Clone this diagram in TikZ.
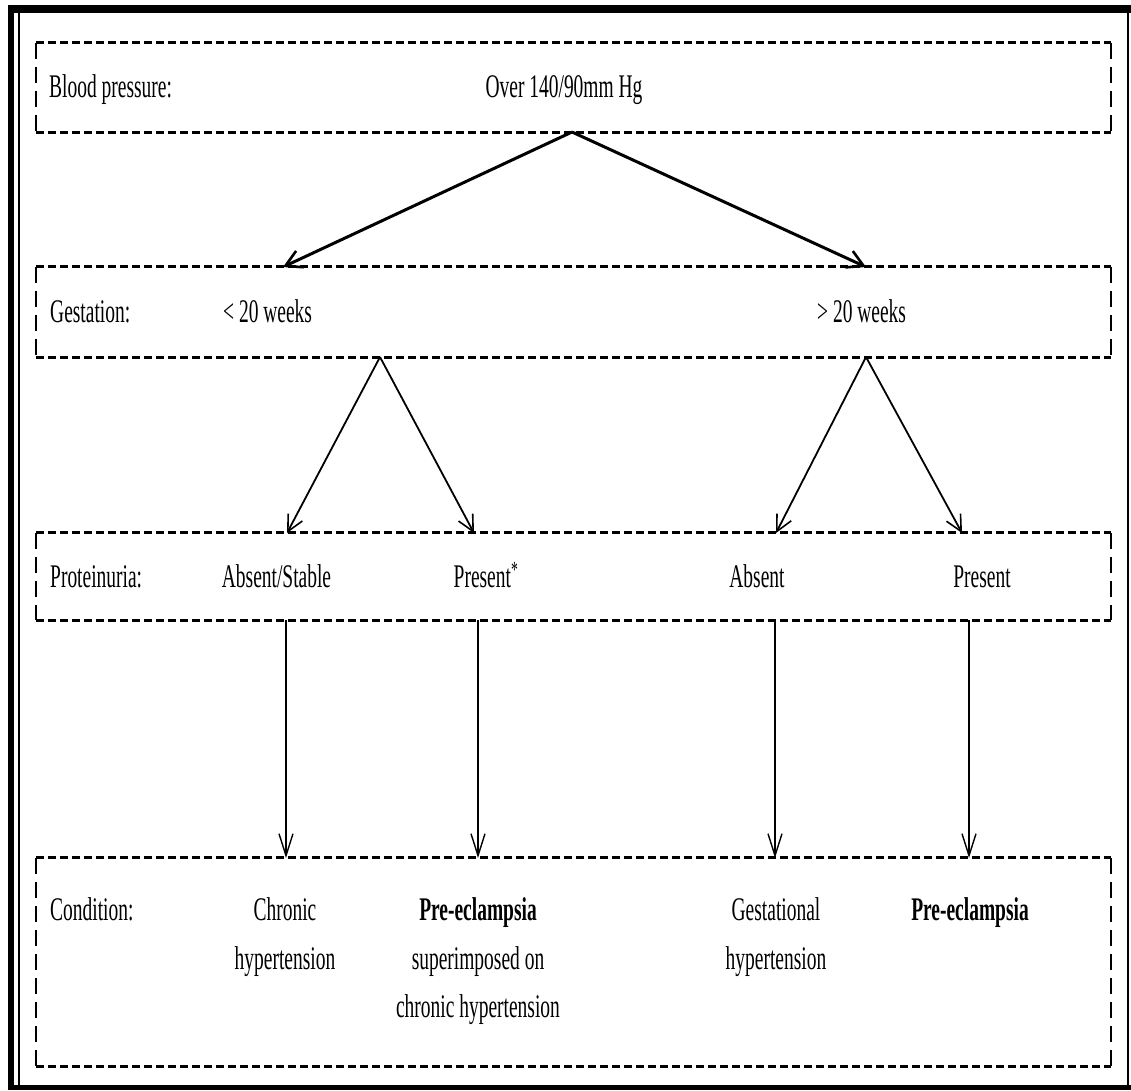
\documentclass[tikz,border=0pt]{standalone}
\usepackage{fontspec}
\setmainfont{Liberation Serif}[FakeStretch=0.59]
\usetikzlibrary{arrows.meta}
\tikzset{
  hdash/.style={line width=3pt, dash pattern=on 8pt off 4pt},
  vdash/.style={line width=2.5pt, dash pattern=on 16pt off 8pt},
  boxarea/.style={draw=none, inner sep=0pt},
  lbl/.style={inner sep=0pt, font=\fontsize{33}{48.5}\selectfont},
  lblc/.style={lbl, align=center, anchor=north},
  bigarrow/.style={line width=3pt, -{Straight Barb[length=16pt,width=18pt,line width=2.6pt]}},
  midarrow/.style={line width=1.8pt, -{Straight Barb[length=16pt,width=16pt,line width=1.6pt]}},
  vertarrow/.style={line width=1.5pt, -{Straight Barb[length=22pt,width=14pt,line width=1.4pt]}},
}
\begin{document}
\begin{tikzpicture}[x=1pt,y=-1pt]
\useasboundingbox (0,0) rectangle (1131,1090);
\fill[white] (0,0) rectangle (1131,1090);
% frame
\draw[line width=6pt] (11,5) -- (11,1090);
\draw[line width=8pt] (8,9) -- (1131,9);
\draw[line width=2pt] (1128,9) -- (1128,1087);
\draw[line width=5pt] (8,1087.5) -- (1131,1087.5);
\draw[line width=2pt] (18.5,13) -- (18.5,1085);

% boxes
\node[boxarea, minimum width=1075pt, minimum height=89pt] (b1) at (573.5,87.5) {};
\node[boxarea, minimum width=1075pt, minimum height=90pt] (b2) at (573.5,312) {};
\node[boxarea, minimum width=1075pt, minimum height=87pt] (b3) at (573.5,576.5) {};
\node[boxarea, minimum width=1075pt, minimum height=208pt] (b4) at (573.5,962) {};
\foreach \b in {b1,b2,b3,b4}{
  \draw[hdash] (\b.north west) -- (\b.north east);
  \draw[hdash] (\b.south west) -- (\b.south east);
  \draw[vdash] (\b.north west) -- (\b.south west);
  \draw[vdash] (\b.north east) -- (\b.south east);
}

% texts
\node[lbl, anchor=base west] (t1) at (49,97) {Blood pressure:};
\node[lbl, anchor=base] (bp) at (564,97) {Over 140/90mm Hg};
\node[lbl, anchor=base west] (t2) at (50,322) {Gestation:};
\node[lbl, anchor=base west] (g1) at (223,322) {< 20 weeks};
\node[lbl, anchor=base west] (g2) at (817,322) {> 20 weeks};
\node[lbl, anchor=base west] (t3) at (50,587) {Proteinuria:};
\node[lbl, anchor=base] (p1) at (276.5,587) {Absent/Stable};
\node[lbl, anchor=base] (p2) at (486,587) {Present\textsuperscript{*}};
\node[lbl, anchor=base] (p3) at (757,587) {Absent};
\node[lbl, anchor=base] (p4) at (982,587) {Present};
\node[lbl, anchor=base west] (t4) at (50,920) {Condition:};
\node[lblc] (c1) at (285,897.5) {Chronic\\hypertension};
\node[lblc] (c2) at (478,897.5) {\textbf{Pre-eclampsia}\\superimposed on\\chronic hypertension};
\node[lblc] (c3) at (776,897.5) {Gestational\\hypertension};
\node[lblc] (c4) at (970,897.5) {\textbf{Pre-eclampsia}};

% attachment points
\coordinate (a1) at (572,132);
\coordinate (a2l) at (283,267);
\coordinate (a2r) at (866,267);
\coordinate (s2l) at (380,357);
\coordinate (s2r) at (866,357);
\coordinate (a3a) at (287,533);
\coordinate (a3b) at (474,533);
\coordinate (a3c) at (776,533);
\coordinate (a3d) at (962,533);
\coordinate (s3a) at (286,620);
\coordinate (s3b) at (478,620);
\coordinate (s3c) at (775,620);
\coordinate (s3d) at (969,620);
\coordinate (a4a) at (286,858);
\coordinate (a4b) at (478,858);
\coordinate (a4c) at (775,858);
\coordinate (a4d) at (969,858);

% connectors
\draw[bigarrow] (a1) -- (a2l);
\draw[bigarrow] (a1) -- (a2r);
\draw[midarrow] (s2l) -- (a3a);
\draw[midarrow] (s2l) -- (a3b);
\draw[midarrow] (s2r) -- (a3c);
\draw[midarrow] (s2r) -- (a3d);
\draw[vertarrow] (s3a) -- (a4a);
\draw[vertarrow] (s3b) -- (a4b);
\draw[vertarrow] (s3c) -- (a4c);
\draw[vertarrow] (s3d) -- (a4d);
\end{tikzpicture}
\end{document}
